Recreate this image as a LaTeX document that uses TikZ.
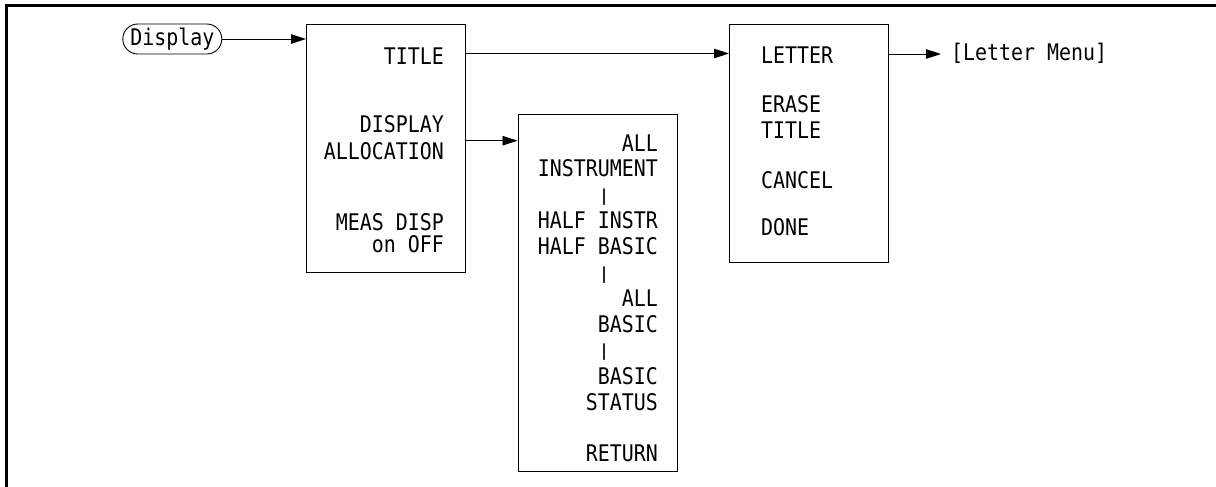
\documentclass[tikz,border=0pt]{standalone}
\usepackage{fontspec}
\usepackage{graphicx}
\setmonofont[FakeStretch=0.87]{DejaVu Sans Mono}
\usetikzlibrary{arrows.meta}
\newcommand{\shortbar}{\raisebox{1.5pt}{\scalebox{1}[0.72]{|}}}
\begin{document}
\begin{tikzpicture}[x=1pt,y=-1pt,
  txt/.style={font=\ttfamily\fontsize{22.9}{26}\selectfont, inner sep=0pt},
  menubox/.style={draw, line width=1.1pt, inner sep=0pt, anchor=north west},
  arr/.style={line width=0.9pt, -{Triangle[length=15pt,width=9.5pt]}}]
\useasboundingbox (0,0) rectangle (1216,487);
% frame
\draw[line width=3pt] (6.2,487) -- (6.2,5.5) -- (1216,5.5);
% key
\node[txt, draw, line width=0.9pt, rounded corners=15pt, minimum width=99pt, minimum height=30pt] (disp) at (172.3,39) {Display};
% boxes
\node[menubox, minimum width=159pt, minimum height=248pt] (b1) at (306,24) {};
\node[menubox, minimum width=159.2pt, minimum height=356.4pt] (b2) at (517.5,114.3) {};
\node[menubox, minimum width=158.7pt, minimum height=238.3pt] (b3) at (729,24) {};
% box 1 texts
\node[txt, anchor=base east] (t1) at (444,65) {TITLE};
\node[txt, anchor=base east] (t2) at (444,132.5) {DISPLAY};
\node[txt, anchor=base east] (t3) at (444,159) {ALLOCATION};
\node[txt, anchor=base east] (t4) at (444,230) {MEAS DISP};
\node[txt, anchor=base east] (t5) at (444,252.5) {on OFF};
% box 2 texts
\node[txt, anchor=base east] (a1) at (658,151) {ALL};
\node[txt, anchor=base east] (a2) at (658,176.9) {INSTRUMENT};
\node[txt, anchor=base] (s1) at (604,202.8) {\shortbar};
\node[txt, anchor=base east] (a3) at (658,228.7) {HALF INSTR};
\node[txt, anchor=base east] (a4) at (658,254.6) {HALF BASIC};
\node[txt, anchor=base] (s2) at (604,280.5) {\shortbar};
\node[txt, anchor=base east] (a5) at (658,306.4) {ALL};
\node[txt, anchor=base east] (a6) at (658,332.3) {BASIC};
\node[txt, anchor=base] (s3) at (604,358.2) {\shortbar};
\node[txt, anchor=base east] (a7) at (658,384.1) {BASIC};
\node[txt, anchor=base east] (a8) at (658,410) {STATUS};
\node[txt, anchor=base east] (a9) at (658,461.8) {RETURN};
% box 3 texts
\node[txt, anchor=base west] (l1) at (761,64) {LETTER};
\node[txt, anchor=base west] (l2) at (761,113) {ERASE};
\node[txt, anchor=base west] (l3) at (761,139) {TITLE};
\node[txt, anchor=base west] (l4) at (761,188) {CANCEL};
\node[txt, anchor=base west] (l5) at (761,235) {DONE};
% target
\node[txt, anchor=base west] (lm) at (951,60.5) {[Letter Menu]};
% connector levels
\coordinate (yT) at (0,53.5);
\coordinate (yA) at (0,140.7);
\coordinate (yL) at (0,54);
% connectors
\draw[arr] (disp.east) -- (b1.west |- disp.east);
\draw[arr] (b1.east |- yT) -- (b3.west |- yT);
\draw[arr] (b1.east |- yA) -- (b2.west |- yA);
\draw[arr, shorten >=10pt] (b3.east |- yL) -- (lm.west |- yL);
\end{tikzpicture}
\end{document}
